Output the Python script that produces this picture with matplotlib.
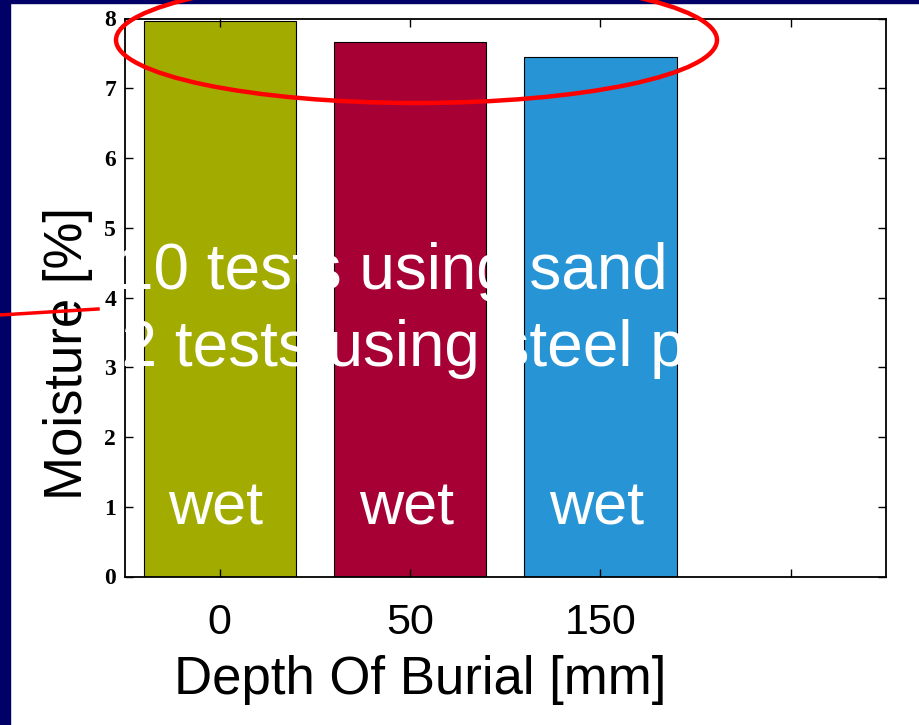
import matplotlib
matplotlib.use('Agg')
import matplotlib.pyplot as plt
from matplotlib.patches import Ellipse, Rectangle
from matplotlib.lines import Line2D
import numpy as np

depths = ['0', '50', '150']
moisture = [7.97, 7.67, 7.45]
bar_colors = ['#A2AC00', '#A70034', '#2795D5']
y_ticks = [0, 1, 2, 3, 4, 5, 6, 7, 8]
note_lines = ['10 tests using sand', '12 tests using steel pipe']
bar_notes = ['wet', 'wet', 'wet']

W, H = 919, 725
fig = plt.figure(figsize=(W / 100, H / 100), dpi=100)
fig.patch.set_facecolor('white')

# slide frame (navy band left and top)
fig.patches.append(Rectangle((0, 0), 10 / W, 1, transform=fig.transFigure,
                             color='#000066', zorder=0))
fig.patches.append(Rectangle((0, 1 - 3 / H), 1, 3 / H, transform=fig.transFigure,
                             color='#000066', zorder=0))

ax = fig.add_axes([124.5 / W, 1 - 576.5 / H, 761.5 / W, 558 / H])
pos = np.arange(1, len(depths) + 1)
ax.bar(pos, moisture, width=0.8, color=bar_colors, edgecolor='black', linewidth=0.8)

ax.set_xlim(0.5, 4.5)
ax.set_ylim(0, 8)
ax.set_xticks(np.arange(1, 5))
ax.set_xticklabels(depths + [''], family='Liberation Sans', fontsize=31)
ax.set_yticks(y_ticks)
ax.set_yticklabels([str(t) for t in y_ticks], family='Liberation Serif',
                   fontweight='bold', fontsize=17)
ax.tick_params(direction='in', top=True, right=True, length=6, width=1)
ax.tick_params(axis='x', pad=19)
ax.tick_params(axis='y', pad=6)
for s in ax.spines.values():
    s.set_linewidth(1.3)
# tick labels sit on top of the white slide text, spines below it
ax.xaxis.set_zorder(4)
ax.yaxis.set_zorder(4)

for x, t in zip(pos, bar_notes):
    ax.text(x - 0.02, 0.75, t, ha='center', va='baseline', color='white',
            family='Liberation Sans', fontsize=44)

fig.text(68 / W, 1 - 353 / H, 'Moisture [%]', rotation=90, ha='center', va='center',
         family='Liberation Sans', fontsize=38)
fig.text(420 / W, 1 - 680 / H, 'Depth Of Burial [mm]', ha='center', va='center',
         family='Liberation Sans', fontsize=38)

# white overlay text from the slide (invisible on the white background)
ax.text(118 / W, 1 - 289 / H, note_lines[0], ha='left', va='baseline',
        color='white', family='Liberation Sans', fontsize=46,
        transform=fig.transFigure, clip_on=False, zorder=3)
ax.text(86 / W, 1 - 366 / H, note_lines[1], ha='left', va='baseline',
        color='white', family='Liberation Sans', fontsize=46,
        transform=fig.transFigure, clip_on=False, zorder=3)

# red highlight annotations
fig.patches.append(Ellipse((416.5 / W, 1 - 40 / H), 601 / W, 126 / H,
                           transform=fig.transFigure, fill=False,
                           edgecolor='#FF0000', linewidth=3.2, zorder=6))
fig.lines.append(Line2D([0, 98 / W], [1 - 315 / H, 1 - 309 / H],
                        transform=fig.transFigure, color='#FF0000',
                        linewidth=2.5, zorder=6))

fig.savefig('out.png', dpi=100)
